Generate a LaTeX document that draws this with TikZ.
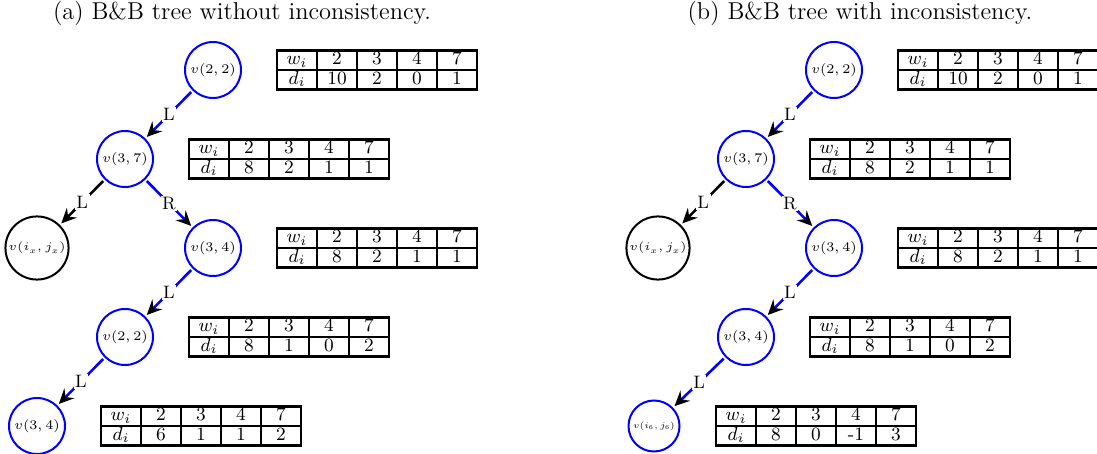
\RequirePackage{fix-cm}
\documentclass[tikz,border=0pt]{standalone}
\usetikzlibrary{arrows.meta}
\tikzset{
  vnode/.style={circle, draw=blue, line width=1pt, minimum size=28pt, inner sep=1pt, font=\fontsize{6.6}{8}\selectfont},
  xnode/.style={vnode, draw=black, minimum size=30pt, font=\fontsize{5.8}{7}\selectfont},
  snode/.style={vnode, minimum size=25.5pt, font=\fontsize{4.3}{5}\selectfont},
  bedge/.style={draw=blue, line width=1.3pt, -{Stealth[black,length=7.5pt,width=7pt,inset=2.7pt]}, shorten >=1pt, shorten <=1pt},
  kedge/.style={bedge, draw=black},
  elab/.style={fill=white, inner sep=0.8pt, font=\fontsize{9}{10}\selectfont},
  tline/.style={line width=1.3pt},
  tcell/.style={font=\fontsize{9.4}{10}\selectfont, inner sep=0pt, text height=6.4pt, text depth=1.7pt},
  ttl/.style={font=\fontsize{12.2}{14}\selectfont}
}
\newcommand\bbtab[6]{%
  \begin{scope}[shift={#2}]
    \draw[tline] (0,-19.5) rectangle (200,19.5);
    \draw[tline] (0,0) -- (200,0);
    \foreach \cx in {40,80,120,160} \draw[tline] (\cx,-19.5) -- (\cx,19.5);
    \node[tcell] (#1w)  at (20,-9.75)  {$w_i$};
    \node[tcell] (#1w2) at (60,-9.75)  {2};
    \node[tcell] (#1w3) at (100,-9.75) {3};
    \node[tcell] (#1w4) at (140,-9.75) {4};
    \node[tcell] (#1w7) at (180,-9.75) {7};
    \node[tcell] (#1d)  at (20,9.75)   {$d_i$};
    \node[tcell] (#1d2) at (60,9.75)   {#3};
    \node[tcell] (#1d3) at (100,9.75)  {#4};
    \node[tcell] (#1d4) at (140,9.75)  {#5};
    \node[tcell] (#1d7) at (180,9.75)  {#6};
  \end{scope}}
\begin{document}
\begin{tikzpicture}[x=0.5pt, y=-0.5pt]
\useasboundingbox (0,0) rectangle (1097,454);
\clip (0,0) rectangle (1097,454);
% titles
\node[ttl] (tta) at (242,13) {(a) B\&B tree without inconsistency.};
\node[ttl] (ttb) at (860,13) {(b) B\&B tree with inconsistency.};
% ---------- panel (a)
\node[vnode] (a1) at (213,70)  {$v(2,2)$};
\node[vnode] (a2) at (125,159) {$v(3,7)$};
\node[xnode] (a3) at (37,248)  {$v(i_x,j_x)$};
\node[vnode] (a4) at (213,248) {$v(3,4)$};
\node[vnode] (a5) at (125,337) {$v(2,2)$};
\node[vnode] (a6) at (37,426)  {$v(3,4)$};
\draw[bedge] (a1) -- node[elab] (la1) {L} (a2);
\draw[kedge] (a2) -- node[elab] (la2) {L} (a3);
\draw[bedge] (a2) -- node[elab] (la3) {R} (a4);
\draw[bedge] (a4) -- node[elab] (la4) {L} (a5);
\draw[bedge] (a5) -- node[elab] (la5) {L} (a6);
\bbtab{ta1}{(277,70)}{10}{2}{0}{1}
\bbtab{ta2}{(189,159)}{8}{2}{1}{1}
\bbtab{ta3}{(277,248)}{8}{2}{1}{1}
\bbtab{ta4}{(189,337)}{8}{1}{0}{2}
\bbtab{ta5}{(101,426)}{6}{1}{1}{2}
% ---------- panel (b)
\node[vnode] (b1) at (834,70)  {$v(2,2)$};
\node[vnode] (b2) at (746,159) {$v(3,7)$};
\node[xnode] (b3) at (658,248) {$v(i_x,j_x)$};
\node[vnode] (b4) at (834,248) {$v(3,4)$};
\node[vnode] (b5) at (746,337) {$v(3,4)$};
\node[snode] (b6) at (654,426) {$v(i_6,j_6)$};
\draw[bedge] (b1) -- node[elab] (lb1) {L} (b2);
\draw[kedge] (b2) -- node[elab] (lb2) {L} (b3);
\draw[bedge] (b2) -- node[elab] (lb3) {R} (b4);
\draw[bedge] (b4) -- node[elab] (lb4) {L} (b5);
\draw[bedge] (b5) -- node[elab] (lb5) {L} (b6);
\bbtab{tb1}{(898,70)}{10}{2}{0}{1}
\bbtab{tb2}{(810,159)}{8}{2}{1}{1}
\bbtab{tb3}{(898,248)}{8}{2}{1}{1}
\bbtab{tb4}{(810,337)}{8}{1}{0}{2}
\bbtab{tb5}{(716,426)}{8}{0}{-1}{3}
\end{tikzpicture}
\end{document}
